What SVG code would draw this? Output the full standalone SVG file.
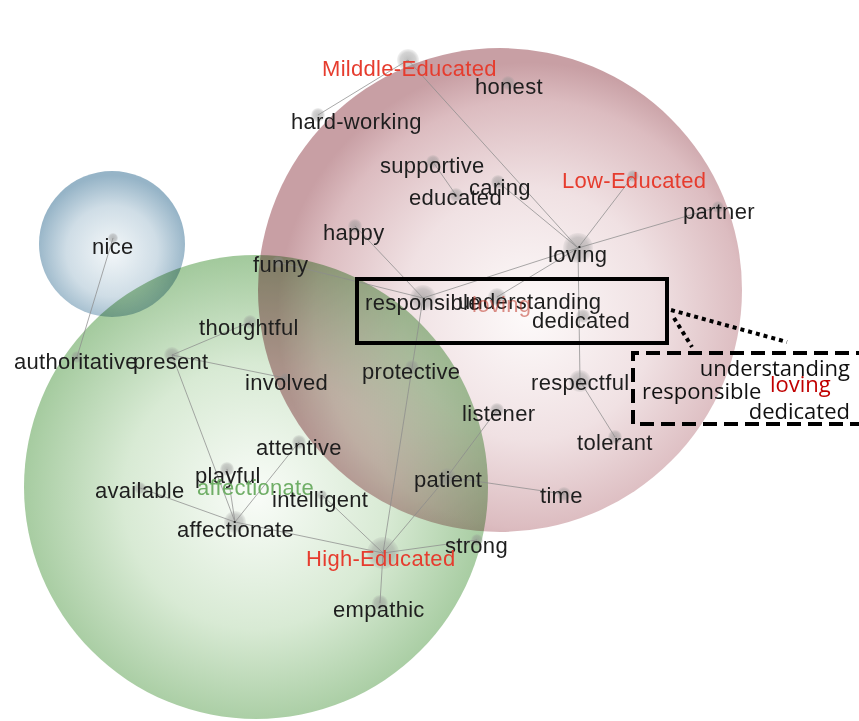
<svg xmlns="http://www.w3.org/2000/svg" width="859" height="721" viewBox="0 0 859 721">
<defs>
<radialGradient id="gRed" cx="0.56" cy="0.55" r="0.52">
<stop offset="0" stop-color="#fdfafa"/>
<stop offset="0.5" stop-color="#f0e1e3"/>
<stop offset="0.85" stop-color="#dcbcc0"/>
<stop offset="1" stop-color="#c89fa4"/>
</radialGradient>
<radialGradient id="gGreen" cx="0.5" cy="0.52" r="0.52">
<stop offset="0" stop-color="#f9fcf8"/>
<stop offset="0.55" stop-color="#d8eAd4"/>
<stop offset="1" stop-color="#a2c99c"/>
</radialGradient>
<radialGradient id="gBlue" cx="0.5" cy="0.55" r="0.52">
<stop offset="0" stop-color="#f3f7f9"/>
<stop offset="0.6" stop-color="#cfdde6"/>
<stop offset="1" stop-color="#96b4c7"/>
</radialGradient>
<radialGradient id="gDot">
<stop offset="0" stop-color="#8a8a8a" stop-opacity="0.55"/>
<stop offset="0.7" stop-color="#909090" stop-opacity="0.4"/>
<stop offset="1" stop-color="#999" stop-opacity="0.12"/>
</radialGradient>
</defs>
<style>
.bub{mix-blend-mode:multiply}
.e{stroke:#8c8c8c;stroke-width:1;stroke-opacity:0.75;fill:none}
.d{fill:url(#gDot)}
.t{font-family:"Liberation Sans",Arial,sans-serif;font-size:22px;letter-spacing:0.3px;fill:#1e1e1e}
.r{fill:#e63c2e}
.g{fill:#6fae66}
.c{font-family:"Open Sans","Noto Sans",sans-serif;font-size:22px;fill:#111}
</style>
<rect width="859" height="721" fill="#fff"/>
<g id="bubbles">
<circle class="bub" cx="500" cy="290" r="242" fill="url(#gRed)"/>
<circle class="bub" cx="256" cy="487" r="232" fill="url(#gGreen)"/>
<circle class="bub" cx="112" cy="244" r="73" fill="url(#gBlue)"/>
</g>
<g id="connectors">
<line class="e" x1="408" y1="60" x2="318" y2="115"/>
<line class="e" x1="408" y1="60" x2="578" y2="248"/>
<line class="e" x1="433" y1="162" x2="456" y2="195"/>
<line class="e" x1="498" y1="182" x2="578" y2="248"/>
<line class="e" x1="633" y1="176" x2="578" y2="248"/>
<line class="e" x1="718" y1="207" x2="578" y2="248"/>
<line class="e" x1="578" y1="248" x2="423" y2="298"/>
<line class="e" x1="578" y1="248" x2="497" y2="297"/>
<line class="e" x1="578" y1="248" x2="580" y2="381"/>
<line class="e" x1="580" y1="381" x2="615" y2="437"/>
<line class="e" x1="355" y1="226" x2="423" y2="298"/>
<line class="e" x1="278" y1="262" x2="423" y2="298"/>
<line class="e" x1="423" y1="298" x2="383" y2="553"/>
<line class="e" x1="383" y1="553" x2="447" y2="477"/>
<line class="e" x1="447" y1="477" x2="497" y2="410"/>
<line class="e" x1="447" y1="477" x2="564" y2="494"/>
<line class="e" x1="383" y1="553" x2="477" y2="540"/>
<line class="e" x1="383" y1="553" x2="380" y2="603"/>
<line class="e" x1="383" y1="553" x2="322" y2="495"/>
<line class="e" x1="383" y1="553" x2="235" y2="522"/>
<line class="e" x1="235" y1="522" x2="140" y2="488"/>
<line class="e" x1="235" y1="522" x2="299" y2="442"/>
<line class="e" x1="235" y1="522" x2="227" y2="469"/>
<line class="e" x1="235" y1="522" x2="172" y2="355"/>
<line class="e" x1="172" y1="355" x2="250" y2="322"/>
<line class="e" x1="172" y1="355" x2="285" y2="378"/>
<line class="e" x1="113" y1="238" x2="77" y2="357"/>
</g>
<g id="n-milddle"><circle class="d" cx="408" cy="60" r="11"/><text class="t r" x="322" y="76">Milddle-Educated</text></g>
<g id="n-honest"><circle class="d" cx="508" cy="83" r="7"/><text class="t" x="475" y="94">honest</text></g>
<g id="n-hardworking"><circle class="d" cx="318" cy="115" r="7"/><text class="t" x="291" y="129">hard-working</text></g>
<g id="n-supportive"><circle class="d" cx="433" cy="162" r="7"/><text class="t" x="380" y="173">supportive</text></g>
<g id="n-caring"><circle class="d" cx="498" cy="182" r="7"/><text class="t" x="469" y="195">caring</text></g>
<g id="n-educated"><circle class="d" cx="456" cy="195" r="7"/><text class="t" x="409" y="205">educated</text></g>
<g id="n-low"><circle class="d" cx="633" cy="176" r="6"/><text class="t r" x="562" y="188">Low-Educated</text></g>
<g id="n-partner"><circle class="d" cx="718" cy="207" r="6"/><text class="t" x="683" y="219">partner</text></g>
<g id="n-happy"><circle class="d" cx="355" cy="226" r="7"/><text class="t" x="323" y="240">happy</text></g>
<g id="n-loving"><circle class="d" cx="578" cy="248" r="15"/><text class="t" x="548" y="262">loving</text></g>
<g id="n-funny"><circle class="d" cx="278" cy="262" r="6"/><text class="t" x="253" y="272">funny</text></g>
<g id="n-responsible"><circle class="d" cx="423" cy="298" r="13"/><text class="t" x="365" y="310">responsible</text></g>
<g id="n-understanding"><circle class="d" cx="497" cy="297" r="9"/><text class="t" x="458" y="309">understanding</text></g>
<g id="n-loving2"><text class="t" x="472" y="312" style="fill:#c0392b;opacity:0.55">loving</text></g>
<g id="n-dedicated"><circle class="d" cx="583" cy="316" r="7"/><text class="t" x="532" y="328">dedicated</text></g>
<g id="n-thoughtful"><circle class="d" cx="250" cy="322" r="7"/><text class="t" x="199" y="335">thoughtful</text></g>
<g id="n-authoritative"><circle class="d" cx="77" cy="357" r="6"/><text class="t" x="14" y="369">authoritative</text></g>
<g id="n-present"><circle class="d" cx="172" cy="355" r="8"/><text class="t" x="133" y="369">present</text></g>
<g id="n-involved"><circle class="d" cx="285" cy="378" r="5"/><text class="t" x="245" y="390">involved</text></g>
<g id="n-protective"><circle class="d" cx="412" cy="367" r="7"/><text class="t" x="362" y="379">protective</text></g>
<g id="n-respectful"><circle class="d" cx="580" cy="381" r="11"/><text class="t" x="531" y="390">respectful</text></g>
<g id="n-listener"><circle class="d" cx="497" cy="410" r="7"/><text class="t" x="462" y="421">listener</text></g>
<g id="n-tolerant"><circle class="d" cx="615" cy="437" r="7"/><text class="t" x="577" y="450">tolerant</text></g>
<g id="n-attentive"><circle class="d" cx="299" cy="442" r="7"/><text class="t" x="256" y="455">attentive</text></g>
<g id="n-playful"><circle class="d" cx="227" cy="469" r="7"/><text class="t" x="195" y="483">playful</text></g>
<g id="n-affectionate-g"><text class="t g" x="197" y="495">affectionate</text></g>
<g id="n-available"><circle class="d" cx="140" cy="488" r="6"/><text class="t" x="95" y="498">available</text></g>
<g id="n-intelligent"><circle class="d" cx="322" cy="495" r="5"/><text class="t" x="272" y="507">intelligent</text></g>
<g id="n-affectionate"><circle class="d" cx="235" cy="522" r="11"/><text class="t" x="177" y="537">affectionate</text></g>
<g id="n-patient"><circle class="d" cx="447" cy="477" r="9"/><text class="t" x="414" y="487">patient</text></g>
<g id="n-time"><circle class="d" cx="564" cy="494" r="7"/><text class="t" x="540" y="503">time</text></g>
<g id="n-strong"><circle class="d" cx="477" cy="540" r="6"/><text class="t" x="445" y="553">strong</text></g>
<g id="n-high"><circle class="d" cx="383" cy="553" r="16"/><text class="t r" x="306" y="566">High-Educated</text></g>
<g id="n-empathic"><circle class="d" cx="380" cy="603" r="8"/><text class="t" x="333" y="617">empathic</text></g>
<g id="n-nice"><circle class="d" cx="113" cy="238" r="5"/><text class="t" x="92" y="254">nice</text></g>
<g id="callout">
<rect x="357" y="279" width="310" height="64" fill="none" stroke="#000" stroke-width="4"/>
<line x1="671" y1="310" x2="787" y2="342" stroke="#000" stroke-width="4" stroke-dasharray="4 4"/>
<line x1="674" y1="318" x2="692" y2="347" stroke="#000" stroke-width="4" stroke-dasharray="4 4"/>
<path d="M 870 353 H 633 V 424 H 870" fill="none" stroke="#000" stroke-width="4" stroke-dasharray="14 7"/>
<text class="c" x="850" y="376" text-anchor="end">understanding</text>
<text class="c" x="642" y="399">responsible</text>
<text class="c" x="770" y="392" style="fill:#c00000">loving</text>
<text class="c" x="850" y="419" text-anchor="end">dedicated</text>
</g>
</svg>
